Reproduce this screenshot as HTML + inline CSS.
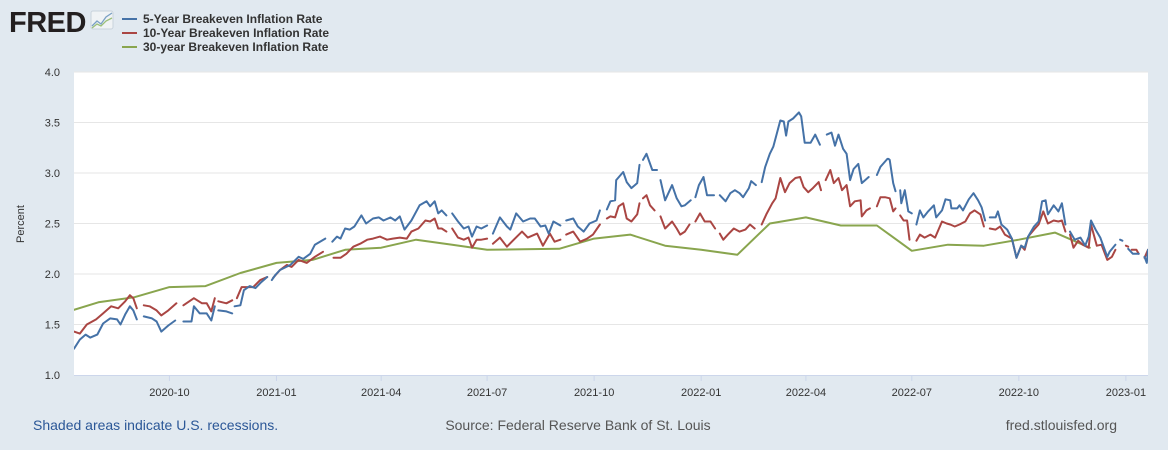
<!DOCTYPE html>
<html><head><meta charset="utf-8">
<style>
body{margin:0;background:#e1e9f0;width:1168px;height:450px;overflow:hidden;font-family:"Liberation Sans",Arial,sans-serif;}
svg{position:absolute;left:0;top:0;}
</style></head>
<body>
<svg id="chart" width="1168" height="450">
  <text x="9" y="32" font-size="29" font-weight="bold" fill="#231f20" font-family="Liberation Sans, sans-serif" letter-spacing="-0.5">FRED</text>
  <g>
    <rect x="91" y="11" width="22" height="18" rx="2" fill="#f0f3f5" stroke="#c9d3dc"/>
    <polyline points="92,26 97,21 101,24 106,17 112,13" fill="none" stroke="#7aa0c4" stroke-width="1.3"/>
    <polyline points="92,28 97,24 101,26 106,21 112,18" fill="none" stroke="#9bbf7a" stroke-width="1.3"/>
  </g>
  <g>
    <g><line x1="122" y1="19" x2="137" y2="19" stroke="#4572a7" stroke-width="2"/><text x="143" y="23" font-size="12" font-weight="bold" fill="#333">5-Year Breakeven Inflation Rate</text></g>
    <g><line x1="122" y1="33" x2="137" y2="33" stroke="#aa4643" stroke-width="2"/><text x="143" y="37" font-size="12" font-weight="bold" fill="#333">10-Year Breakeven Inflation Rate</text></g>
    <g><line x1="122" y1="47" x2="137" y2="47" stroke="#89a54e" stroke-width="2"/><text x="143" y="51" font-size="12" font-weight="bold" fill="#333">30-year Breakeven Inflation Rate</text></g>
  </g>
  <rect x="74" y="72" width="1074" height="303" fill="#ffffff"/>
  <g id="grid"></g>
  <g id="yticks"></g>
  <g id="xticks"></g>
  <text x="24" y="224" font-size="11" fill="#333" text-anchor="middle" transform="rotate(-90 24 224)">Percent</text>
  <defs><clipPath id="clip"><rect x="74" y="60" width="1074" height="320"/></clipPath></defs>
  <g id="series" clip-path="url(#clip)"></g>
  <text x="33" y="430" font-size="14" fill="#2b5797">Shaded areas indicate U.S. recessions.</text>
  <text x="578" y="430" font-size="14" fill="#555" text-anchor="middle">Source: Federal Reserve Bank of St. Louis</text>
  <text x="1117" y="430" font-size="14" fill="#555" text-anchor="end">fred.stlouisfed.org</text>
</svg>
<script>
// day offsets from 2020-07-11 (null = gap)
const b5Days=[0,5,10,14,20,25,31,37,40,44,48,51,54,null,60,67,71,75,81,87,null,94,101,103,108,114,118,121,null,124,131,136,null,138,143,146,151,156,161,166,null,170,173,177,186,193,197,203,207,216,null,222,226,
229,233,237,241,247,251,257,262,266,272,276,280,284,290,297,303,306,310,313,316,320,null,325,330,335,339,342,346,350,355,null,360,366,372,375,380,386,392,396,401,405,408,412,418,null,423,429,433,438,443,449,452,null,458,
461,465,466,472,475,479,484,486,null,489,492,497,501,null,504,508,514,518,522,525,530,null,534,537,541,544,550,null,555,560,564,568,572,575,580,582,586,null,591,594,598,601,604,607,610,612,614,618,623,625,628,633,637,641,null,647,651,654,657,661,664,667,670,674,677,680,683,null,690,693,699,
700,701,704,706,null,710,711,714,717,720,null,724,727,730,734,739,741,746,749,753,754,759,761,764,769,773,777,780,783,null,787,792,794,797,802,806,810,814,817,820,825,829,832,835,837,842,846,849,852,null,856,860,865,869,872,874,878,882,888,890,895,null,899,901,null,906,910,915,null,920,922,923];
const b5Vals=[1.26,1.35,1.40,1.37,1.40,1.51,1.56,1.55,1.50,1.60,1.68,1.64,1.55,null,1.58,1.56,1.53,1.43,1.49,1.54,null,1.53,1.53,1.68,1.61,1.61,1.54,1.68,null,1.64,1.63,1.61,null,1.68,1.69,1.84,1.88,1.86,1.92,1.97,null,1.94,1.99,2.04,2.09,2.17,2.15,2.20,2.29,2.35,null,2.32,2.37,
2.35,2.45,2.44,2.47,2.58,2.50,2.55,2.56,2.53,2.56,2.53,2.57,2.44,2.53,2.68,2.72,2.67,2.72,2.60,2.63,2.58,null,2.60,2.52,2.45,2.47,2.37,2.47,2.45,2.48,null,2.40,2.56,2.47,2.44,2.60,2.52,2.55,2.55,2.47,2.48,2.40,2.52,2.48,null,2.53,2.55,2.47,2.42,2.50,2.53,2.63,null,2.64,
2.72,2.73,2.93,3.01,2.91,2.85,2.90,3.08,null,3.13,3.19,3.03,3.03,null,2.93,2.73,2.88,2.75,2.67,2.68,2.73,null,2.76,2.88,2.96,2.78,2.78,null,2.78,2.72,2.80,2.83,2.80,2.76,2.85,2.92,2.88,null,2.91,3.06,3.19,3.26,3.39,3.52,3.51,3.37,3.51,3.54,3.60,3.56,3.30,3.30,3.38,3.28,null,3.38,3.40,3.27,3.38,3.24,3.19,2.93,3.04,3.09,2.90,2.93,2.96,null,2.98,3.06,3.14,
3.14,3.13,2.90,2.82,null,2.83,2.70,2.83,2.62,2.60,null,2.49,2.63,2.56,2.62,2.68,2.56,2.63,2.74,2.73,2.65,2.65,2.68,2.63,2.74,2.80,2.73,2.66,2.53,null,2.56,2.56,2.62,2.49,2.44,2.35,2.16,2.28,2.26,2.37,2.47,2.52,2.72,2.73,2.59,2.68,2.62,2.70,2.49,null,2.42,2.34,2.36,2.28,2.37,2.53,2.44,2.36,2.17,2.22,2.29,null,2.34,2.33,null,2.25,2.20,2.20,null,2.17,2.11,2.24];

const r10Days=[0,5,11,19,25,32,38,44,48,51,54,null,60,65,71,75,81,88,null,94,103,110,114,118,121,null,124,131,136,null,140,144,150,154,160,166,null,171,177,183,187,193,200,207,214,null,223,229,
234,240,246,252,257,263,269,274,280,286,290,296,302,306,310,313,316,320,null,325,330,335,339,342,346,350,355,null,360,366,372,378,385,390,398,403,409,413,418,null,423,429,435,441,446,452,null,458,
461,465,468,472,475,479,484,486,null,489,492,495,499,null,504,508,514,518,521,525,529,null,534,538,542,547,551,null,555,558,562,567,572,577,581,585,null,591,595,600,603,607,611,615,620,624,627,631,635,640,642,null,646,650,653,657,660,664,667,671,676,677,681,684,null,690,693,697,701,
704,706,null,710,713,716,718,null,724,727,731,736,740,746,750,753,757,761,766,770,774,779,782,null,787,792,796,800,806,810,814,817,820,825,829,833,837,842,846,849,852,null,856,859,863,867,872,874,879,883,888,892,895,null,904,906,null,909,913,915,null,920,923];
const r10Vals=[1.43,1.41,1.50,1.55,1.61,1.68,1.66,1.73,1.79,1.76,1.66,null,1.69,1.68,1.64,1.59,1.64,1.71,null,1.69,1.76,1.71,1.71,1.63,1.76,null,1.73,1.71,1.74,null,1.76,1.87,1.87,1.87,1.94,1.97,null,1.96,2.04,2.09,2.07,2.14,2.11,2.17,2.22,null,2.16,2.16,
2.20,2.27,2.30,2.34,2.35,2.37,2.34,2.35,2.36,2.35,2.42,2.45,2.53,2.52,2.55,2.45,2.45,2.42,null,2.45,2.36,2.34,2.36,2.26,2.34,2.34,2.35,null,2.30,2.36,2.27,2.34,2.42,2.36,2.40,2.28,2.40,2.32,2.34,null,2.39,2.42,2.32,2.35,2.39,2.49,null,2.55,
2.57,2.56,2.67,2.70,2.55,2.52,2.59,2.70,null,2.75,2.78,2.68,2.63,null,2.57,2.45,2.52,2.45,2.39,2.42,2.49,null,2.52,2.60,2.52,2.52,2.45,null,2.40,2.34,2.39,2.45,2.42,2.44,2.49,2.45,null,2.49,2.59,2.70,2.75,2.95,2.81,2.90,2.95,2.96,2.86,2.81,2.85,2.91,2.83,null,2.93,3.03,2.90,2.95,2.83,2.88,2.67,2.72,2.73,2.57,2.63,2.65,null,2.67,2.76,2.76,2.75,
2.62,2.65,null,2.58,2.53,2.53,2.34,null,2.33,2.39,2.36,2.39,2.36,2.52,2.50,2.49,2.47,2.49,2.52,2.60,2.63,2.59,2.47,null,2.45,2.44,2.47,2.39,2.35,2.16,2.28,2.24,2.37,2.44,2.49,2.62,2.50,2.53,2.52,2.53,2.42,null,2.39,2.26,2.33,2.29,2.26,2.49,2.28,2.29,2.14,2.17,2.24,null,2.28,2.27,null,2.24,2.24,2.20,null,2.16,2.24];

const g30Dates=["2020-07-01","2020-08-01","2020-09-01","2020-10-01","2020-11-01","2020-12-01","2021-01-01","2021-02-01","2021-03-01","2021-04-01","2021-05-01","2021-06-01","2021-07-01","2021-08-01","2021-09-01","2021-10-01","2021-11-01","2021-12-01","2022-01-01","2022-02-01","2022-03-01","2022-04-01","2022-05-01","2022-06-01","2022-07-01","2022-08-01","2022-09-01","2022-10-01","2022-11-01","2022-12-01"];
const g30Vals=[1.61,1.72,1.77,1.87,1.88,2.01,2.11,2.14,2.24,2.26,2.34,2.29,2.24,2.245,2.25,2.35,2.39,2.28,2.24,2.19,2.50,2.56,2.48,2.48,2.23,2.29,2.28,2.34,2.41,2.26];

const yTicks=[1.0,1.5,2.0,2.5,3.0,3.5,4.0];
const xTickDates=["2020-10-01","2021-01-01","2021-04-01","2021-07-01","2021-10-01","2022-01-01","2022-04-01","2022-07-01","2022-10-01","2023-01-01"];
const xTickLabels=["2020-10","2021-01","2021-04","2021-07","2021-10","2022-01","2022-04","2022-07","2022-10","2023-01"];

const NS="http://www.w3.org/2000/svg";
const START=Date.UTC(2020,6,11);
const PX_PER_DAY=1074/923;
function dayOf(iso){const p=iso.split("-");return (Date.UTC(+p[0],+p[1]-1,+p[2])-START)/86400000;}
function xScale(d){return 74+d*PX_PER_DAY;}
function yScale(v){return 375-(v-1)*101;}

const grid=document.getElementById("grid"),yt=document.getElementById("yticks"),xt=document.getElementById("xticks"),ser=document.getElementById("series");
yTicks.forEach(v=>{
  if(v>1){const l=document.createElementNS(NS,"line");
  l.setAttribute("x1",74);l.setAttribute("x2",1148);l.setAttribute("y1",yScale(v));l.setAttribute("y2",yScale(v));
  l.setAttribute("stroke","#e6e6e6");l.setAttribute("stroke-width","1");
  
  
  grid.appendChild(l);}
  const t=document.createElementNS(NS,"text");
  t.setAttribute("x",60);t.setAttribute("y",yScale(v)+4);t.setAttribute("text-anchor","end");
  t.setAttribute("font-size","11");t.setAttribute("fill","#333");t.textContent=v.toFixed(1);
  
  
  yt.appendChild(t);
});
const axis=document.createElementNS(NS,"line");
axis.setAttribute("x1",74);axis.setAttribute("x2",1148);axis.setAttribute("y1",375.5);axis.setAttribute("y2",375.5);axis.setAttribute("stroke","#ccd6eb");


xt.appendChild(axis);
xTickDates.forEach((d,i)=>{
  const x=xScale(dayOf(d));
  const l=document.createElementNS(NS,"line");
  l.setAttribute("x1",x);l.setAttribute("x2",x);l.setAttribute("y1",375);l.setAttribute("y2",381);l.setAttribute("stroke","#ccd6eb");
  
  
  xt.appendChild(l);
  const t=document.createElementNS(NS,"text");
  t.setAttribute("x",x);t.setAttribute("y",396);t.setAttribute("text-anchor","middle");
  t.setAttribute("font-size","11");t.setAttribute("fill","#333");t.textContent=xTickLabels[i];
  
  
  xt.appendChild(t);
});
function drawSeries(days,vals,color,name){
  let d="",pen=false;
  for(let i=0;i<days.length;i++){
    if(days[i]===null||vals[i]===null){pen=false;continue;}
    d+=(pen?"L":"M")+xScale(days[i]).toFixed(1)+","+yScale(vals[i]).toFixed(1);
    pen=true;
  }
  const p=document.createElementNS(NS,"path");
  p.setAttribute("d",d);p.setAttribute("fill","none");p.setAttribute("stroke",color);
  p.setAttribute("stroke-width","2");p.setAttribute("stroke-linejoin","round");p.setAttribute("stroke-linecap","round");
  
  
  ser.appendChild(p);
}
drawSeries(g30Dates.map(dayOf),g30Vals,"#89a54e","series-30-year");
drawSeries(r10Days,r10Vals,"#aa4643","series-10-year");
drawSeries(b5Days,b5Vals,"#4572a7","series-5-year");
</script>
</body></html>
